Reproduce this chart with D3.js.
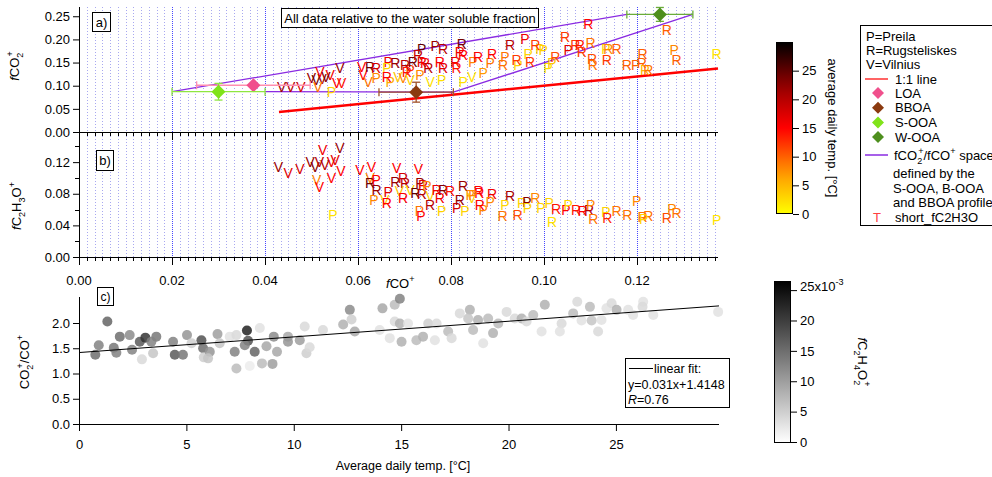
<!DOCTYPE html>
<html>
<head>
<meta charset="utf-8">
<script src="https://cdn.jsdelivr.net/npm/d3@7"></script>
<style>
  body { margin: 0; background: #fff; }
  svg { font-family: "Liberation Sans", Arial, sans-serif; }
</style>
</head>
<body>
<svg id="chart" width="992" height="477"></svg>
<script>
// panel a: site letter, fCO+, fCO2+, average daily temp
const panelA = [
  ["V",0.0436,0.0976,22],["V",0.0455,0.0963,20],["V",0.0477,0.0976,18],["V",0.0500,0.1157,22],
  ["V",0.0510,0.1121,24],["V",0.0523,0.1142,22],["V",0.0518,0.1300,16],["V",0.0540,0.1228,16],
  ["V",0.0561,0.1373,22],["V",0.0554,0.1050,15],["V",0.0565,0.1050,14],["V",0.0514,0.0970,9],
  ["V",0.0531,0.1185,23],["V",0.0608,0.1407,15],["V",0.0611,0.1228,15],["V",0.0622,0.1084,9],
  ["V",0.0686,0.1192,4],["V",0.0697,0.1157,8],["V",0.0712,0.1121,3],["V",0.0755,0.1084,2],
  ["V",0.0845,0.1192,2],
  ["P",0.0543,0.0869,3],["P",0.0639,0.1157,8],["P",0.0665,0.1515,16],["P",0.0662,0.1373,3],
  ["P",0.0669,0.1084,6],["P",0.0733,0.1228,8],["P",0.0737,0.1804,25],["P",0.0766,0.1853,22],
  ["P",0.0780,0.1121,2],["P",0.0826,0.1084,2],["P",0.0847,0.1515,8],["P",0.0959,0.2019,16],
  ["P",0.0991,0.1804,4],["P",0.0998,0.1782,3],["P",0.1052,0.1767,17],["P",0.1133,0.1804,3],
  ["P",0.1280,0.1767,8],["P",0.1197,0.1444,10],["P",0.0966,0.1696,3],["P",0.0916,0.1623,9],
  ["P",0.0944,0.1444,3],["P",0.1009,0.1379,2],["P",0.1017,0.1481,4],["P",0.0869,0.1265,7],
  ["P",0.0884,0.1481,9],["P",0.0712,0.1336,12],
  ["R",0.0626,0.1407,24],["R",0.0639,0.1379,18],["R",0.0680,0.1481,22],["R",0.0701,0.1444,20],
  ["R",0.0662,0.1192,15],["R",0.0718,0.1515,24],["R",0.0729,0.1659,19],["R",0.0737,0.1515,17],
  ["R",0.0744,0.1481,15],["R",0.0751,0.1373,20],["R",0.0783,0.1804,20],["R",0.0776,0.1515,15],
  ["R",0.0783,0.1373,17],["R",0.0823,0.1912,24],["R",0.0819,0.1731,16],["R",0.0826,0.1659,15],
  ["R",0.0809,0.1515,16],["R",0.0812,0.1373,14],["R",0.1095,0.2343,15],["R",0.1264,0.2198,10],
  ["R",0.0927,0.1875,20],["R",0.0981,0.1875,12],["R",0.1045,0.2054,12],["R",0.1067,0.1875,12],
  ["R",0.1077,0.1875,14],["R",0.1100,0.1933,9],["R",0.1081,0.1731,12],["R",0.1138,0.1804,8],
  ["R",0.1156,0.1804,10],["R",0.1103,0.1588,11],["R",0.1105,0.1444,9],["R",0.1135,0.1552,12],
  ["R",0.1285,0.1552,10],["R",0.1212,0.1696,10],["R",0.1210,0.1481,10],["R",0.1178,0.1444,10],
  ["R",0.1217,0.1336,5],["R",0.1224,0.1336,9],["R",0.0888,0.1696,15],["R",0.0858,0.1623,15],
  ["R",0.0912,0.1444,9],["R",0.0941,0.1552,12],["R",0.0970,0.1515,12],["R",0.1024,0.1623,11],
  ["R",0.0705,0.1293,14],["R",0.1371,0.1696,2]
];

// panel b: site letter, fCO+, fC2H3O+, average daily temp
const panelB = [
  ["V",0.0429,0.1133,22],["V",0.0450,0.1061,17],["V",0.0475,0.1115,18],["V",0.0497,0.1199,22],
  ["V",0.0508,0.1133,23],["V",0.0517,0.1208,20],["V",0.0524,0.1355,16],["V",0.0561,0.1376,22],
  ["V",0.0543,0.1208,16],["V",0.0551,0.1229,17],["V",0.0563,0.1090,15],["V",0.0543,0.1006,15],
  ["V",0.0511,0.0976,8],["V",0.0517,0.0880,15],["P",0.0546,0.0527,2],["V",0.0529,0.1165,20],
  ["V",0.0604,0.1102,15],["V",0.0629,0.1145,15],["V",0.0683,0.1124,15],["V",0.0730,0.1115,15],
  ["V",0.0626,0.1006,8],["R",0.0626,0.0934,24],["P",0.0639,0.0976,15],["R",0.0640,0.0850,22],
  ["P",0.0634,0.0723,8],["V",0.0658,0.0723,3],["P",0.0665,0.0821,17],["R",0.0662,0.0682,15],
  ["R",0.0680,0.0947,22],["R",0.0697,0.1006,18],["R",0.0701,0.0934,20],["V",0.0689,0.0830,4],
  ["R",0.0697,0.0745,15],["V",0.0712,0.0850,3],["R",0.0723,0.0808,25],["P",0.0733,0.0934,22],
  ["R",0.0740,0.0913,17],["R",0.0737,0.0795,20],["P",0.0748,0.0893,8],["V",0.0755,0.0766,3],
  ["R",0.0755,0.0660,20],["P",0.0732,0.0577,9],["P",0.0735,0.0514,15],["P",0.0780,0.0577,3],
  ["R",0.0769,0.0850,16],["R",0.0783,0.0850,23],["R",0.0776,0.0745,16],["R",0.0798,0.0830,14],
  ["P",0.0812,0.0619,18],["P",0.0830,0.0577,3],["R",0.0826,0.0893,22],["R",0.0819,0.0723,22],
  ["P",0.0841,0.0787,8],["R",0.0859,0.0830,15],["V",0.0845,0.0745,3],["R",0.0861,0.0812,15],
  ["P",0.0847,0.0783,8],["R",0.0888,0.0795,16],["P",0.0884,0.0698,8],["P",0.0869,0.0593,8],
  ["R",0.0862,0.0657,15],["R",0.0927,0.0770,21],["P",0.0916,0.0657,3],["R",0.0911,0.0518,9],
  ["R",0.0943,0.0530,11],["P",0.0952,0.0686,3],["P",0.0963,0.0698,23],["P",0.0964,0.0615,3],
  ["R",0.0981,0.0745,8],["P",0.0993,0.0615,3],["P",0.1011,0.0686,3],["R",0.1017,0.0446,2],
  ["R",0.1026,0.0602,14],["P",0.1047,0.0593,15],["P",0.1052,0.0657,3],["R",0.1069,0.0593,14],
  ["R",0.1083,0.0585,15],["R",0.1097,0.0593,20],["P",0.1100,0.0657,8],["R",0.1106,0.0476,9],
  ["P",0.1133,0.0572,3],["R",0.1136,0.0489,13],["R",0.1156,0.0585,9],["R",0.1179,0.0530,9],
  ["P",0.1199,0.0711,8],["R",0.1212,0.0501,9],["R",0.1224,0.0518,9],["P",0.1214,0.0476,3],
  ["R",0.1264,0.0489,11],["R",0.1285,0.0552,9],["P",0.1275,0.0602,8],["P",0.1371,0.0467,2]
];

// panel c: average daily temp, CO2+/CO+, fC2H4O2+
const panelC = [
  [0.76,1.37,0.015],[0.92,1.56,0.013],[1.32,2.03,0.016],[1.62,1.51,0.014],[1.74,1.41,0.013],
  [1.90,1.73,0.015],[2.36,1.76,0.012],[2.47,1.47,0.013],[2.83,1.63,0.017],[3.09,1.71,0.021],
  [2.93,1.28,0.004],[3.45,1.40,0.006],[3.60,1.73,0.014],[3.37,1.63,0.013],[4.38,1.63,0.013],
  [4.46,1.37,0.017],[4.84,1.37,0.014],[5.03,1.76,0.011],[5.24,1.60,0.005],[5.70,1.66,0.018],
  [5.78,1.50,0.015],[5.81,1.32,0.005],[6.09,1.43,0.011],[6.01,1.30,0.006],[6.45,1.78,0.010],
  [6.55,1.60,0.006],[7.02,1.73,0.003],[7.25,1.43,0.013],[7.33,1.10,0.007],[7.33,1.76,0.004],
  [7.82,1.85,0.023],[7.87,1.65,0.018],[7.72,1.56,0.013],[8.18,1.43,0.016],[7.95,1.15,0.002],
  [8.42,1.90,0.003],[8.52,1.20,0.007],[8.73,1.54,0.009],[9.01,1.19,0.010],[9.07,1.73,0.012],
  [9.22,1.43,0.009],[9.73,1.73,0.009],[9.73,1.63,0.011],[10.28,1.66,0.010],[10.51,1.93,0.004],
  [10.59,1.40,0.005],[10.74,1.52,0.004],[11.36,1.86,0.004],[12.30,1.97,0.008],[12.61,2.26,0.012],
  [12.69,2.07,0.005],[12.84,1.83,0.009],[14.00,1.86,0.003],[14.13,2.29,0.009],[14.70,2.36,0.007],
  [14.94,2.48,0.013],[14.70,2.03,0.004],[14.94,1.99,0.008],[14.47,1.70,0.003],[15.02,1.63,0.008],
  [15.32,1.99,0.003],[15.71,1.66,0.007],[16.02,1.73,0.008],[16.26,1.99,0.005],[16.57,1.66,0.003],
  [16.65,1.99,0.004],[17.19,1.83,0.007],[17.35,1.70,0.004],[17.73,2.19,0.004],[18.20,2.26,0.008],
  [18.12,2.09,0.006],[18.35,1.86,0.007],[18.58,2.06,0.008],[18.82,1.60,0.003],[19.05,2.09,0.007],
  [19.28,1.80,0.008],[19.52,1.99,0.007],[19.91,2.22,0.004],[20.29,2.09,0.004],[20.61,2.09,0.008],
  [20.84,2.03,0.004],[21.15,2.16,0.007],[21.54,1.83,0.003],[21.69,2.36,0.008],[22.47,1.99,0.004],
  [22.39,1.83,0.003],[23.01,2.19,0.007],[23.20,2.42,0.004],[23.40,2.05,0.003],[23.79,2.32,0.007],
  [23.87,2.05,0.006],[24.17,1.83,0.004],[24.33,2.06,0.003],[24.56,2.29,0.003],[24.80,2.39,0.004],
  [25.03,2.26,0.008],[25.57,2.26,0.003],[25.80,2.16,0.003],[26.27,2.42,0.003],[26.24,2.32,0.004],
  [26.74,2.16,0.003],[29.76,2.22,0.003]
];

// factor profiles (LOA, BBOA, S-OOA, W-OOA) with error bars
const profileNames = ["LOA", "BBOA", "S-OOA", "W-OOA"];
const profileCO    = [0.0375, 0.0725, 0.0300, 0.1249];
const profileCO2   = [0.101, 0.086, 0.087, 0.254];
const profileErrCO = [0.0122, 0.0080, 0.0100, 0.0071];
const profileErrCO2 = [0, 0.0215, 0.018, 0.015];

const oneToOne = [0.043, 0.1374];
const fit = { slope: 0.031, intercept: 1.4148 };

const tempTicks = [0, 5, 10, 15, 20, 25];
const acetTicks = [0, 0.005, 0.010, 0.015, 0.020, 0.025];

const svg = d3.select("#chart");

const xA = d3.scaleLinear([0, 0.1374], [79, 718]);
const yA = d3.scaleLinear([0, 0.27], [132, 7]);
const yB = d3.scaleLinear([0, 0.148], [257, 140]);
const xC = d3.scaleLinear([0, 29.8], [79, 719]);
const yC = d3.scaleLinear([0, 2.5], [424, 297.75]);

const tempColor = d3.scaleLinear()
  .domain([0, 7, 15, 22, 30])
  .range(["#ffff00", "#ff9900", "#ff0000", "#9a0000", "#000000"]);
const grey = d3.scaleLinear([0, 0.0265], ["#ffffff", "#000000"]);
const profColors = ["#f0508c", "#8b3a0f", "#80e31a", "#4e8f1e"];
const profErrColors = ["#ff8fb0", "#a0522d", "#8fe640", "#6aac3a"];

// rich text helper: parts = [text, kind, dx]
function rich(sel, parts, size) {
  let shift = 0;
  parts.forEach(([t, kind, dx]) => {
    const want = kind === "sub" ? size * 0.3 : kind === "sup" ? -size * 0.45 : 0;
    const ts = sel.append("tspan").text(t).attr("dy", want - shift);
    if (dx) ts.attr("dx", dx);
    if (kind === "sub" || kind === "sup") ts.attr("font-size", size * 0.7);
    if (kind === "i") ts.attr("font-style", "italic");
    shift = want;
  });
  return sel;
}

// ---- vertical grid for panels a and b
const step = 0.02 / 12;
const minorVals = d3.range(0, 0.1374 + 1e-9, step);
const isMajor = v => Math.abs(v / 0.02 - Math.round(v / 0.02)) < 1e-6;

svg.append("g").selectAll("line").data(minorVals.filter(v => v > 0)).join("line")
  .attr("x1", d => Math.round(xA(d)) + 0.5).attr("x2", d => Math.round(xA(d)) + 0.5)
  .attr("y1", 7).attr("y2", 257)
  .attr("stroke", d => isMajor(d) ? "#4848ff" : "#a8a8f0")
  .attr("stroke-dasharray", d => isMajor(d) ? "1,1" : "1,2");

// ---- panel a axes
svg.append("g").attr("transform", "translate(79,0)")
  .call(d3.axisLeft(yA).tickValues([0, 0.05, 0.1, 0.15, 0.2, 0.25]).tickFormat(d3.format(".2f")).tickSize(6).tickPadding(3))
  .call(g => g.select(".domain").attr("d", "M0.5,7V132.5"));

function bottomTicks(y, labels) {
  const g = svg.append("g").attr("transform", `translate(0,${y})`);
  g.append("line").attr("x1", 79).attr("x2", 718).attr("y1", 0.5).attr("y2", 0.5).attr("stroke", "#000");
  g.selectAll("line.t").data(minorVals).join("line").attr("class", "t")
    .attr("x1", d => Math.round(xA(d)) + 0.5).attr("x2", d => Math.round(xA(d)) + 0.5)
    .attr("y1", 0).attr("y2", d => isMajor(d) ? 8 : 4).attr("stroke", "#000");
  if (labels) {
    g.selectAll("text").data(minorVals.filter(isMajor)).join("text")
      .attr("x", d => xA(d)).attr("y", 28).attr("text-anchor", "middle")
      .attr("font-size", 13).text(d3.format(".2f"));
  }
}
bottomTicks(132, false);
bottomTicks(257, true);

// ---- panel b axis
svg.append("g").attr("transform", "translate(79,0)")
  .call(d3.axisLeft(yB).tickValues([0, 0.04, 0.08, 0.12]).tickFormat(d3.format(".2f")).tickSize(6).tickPadding(3))
  .call(g => g.select(".domain").attr("d", "M0.5,140V257.5"));
svg.append("g").selectAll("line").data([0.02, 0.06, 0.10, 0.14]).join("line")
  .attr("x1", 75).attr("x2", 79).attr("y1", d => Math.round(yB(d)) + 0.5).attr("y2", d => Math.round(yB(d)) + 0.5)
  .attr("stroke", "#000");

svg.selectAll(".tick text").attr("font-size", 13).attr("font-family", "Liberation Sans, Arial, sans-serif");

// ---- panel a content: polygon space, 1:1 line, letters, profiles
const S = 2, W = 3, B = 1;
const spacePts = [
  [[profileCO[S] - profileErrCO[S], profileCO2[S]], [profileCO[W] - profileErrCO[W], profileCO2[W]]],
  [[profileCO[W] + profileErrCO[W], profileCO2[W]], [profileCO[B] + profileErrCO[B], profileCO2[B]],
   [profileCO[S] + profileErrCO[S], profileCO2[S]]]
];
const lineA = d3.line().x(d => xA(d[0])).y(d => yA(d[1]));
svg.append("g").selectAll("path").data(spacePts).join("path")
  .attr("d", lineA).attr("fill", "none").attr("stroke", "#8a2be2").attr("stroke-width", 1.3);

svg.append("path").attr("d", lineA(oneToOne.map(v => [v, v])))
  .attr("stroke", "#ff0000").attr("stroke-width", 2.5).attr("fill", "none");

function letters(data, yScale) {
  svg.append("g").selectAll("text").data(data).join("text")
    .attr("x", d => xA(d[1])).attr("y", d => yScale(d[2]))
    .attr("dy", "0.36em").attr("text-anchor", "middle")
    .attr("font-size", 14).attr("fill", d => tempColor(d[3])).text(d => d[0]);
}
letters(panelA, yA);
letters(panelB, yB);

// profile error bars + diamonds
const prof = svg.append("g");
profileNames.forEach((n, i) => {
  const cx = xA(profileCO[i]), cy = yA(profileCO2[i]);
  const x0 = xA(profileCO[i] - profileErrCO[i]), x1 = xA(profileCO[i] + profileErrCO[i]);
  const c = profErrColors[i];
  prof.append("line").attr("x1", x0).attr("x2", x1).attr("y1", cy).attr("y2", cy).attr("stroke", c).attr("stroke-width", 1.3);
  [x0, x1].forEach(x => prof.append("line").attr("x1", x).attr("x2", x).attr("y1", cy - 4).attr("y2", cy + 4).attr("stroke", c).attr("stroke-width", 1.3));
  if (profileErrCO2[i] > 0) {
    const y0 = yA(profileCO2[i] - profileErrCO2[i]), y1 = yA(profileCO2[i] + profileErrCO2[i]);
    prof.append("line").attr("x1", cx).attr("x2", cx).attr("y1", y0).attr("y2", y1).attr("stroke", c).attr("stroke-width", 1.3);
    [y0, y1].forEach(y => prof.append("line").attr("x1", cx - 4).attr("x2", cx + 4).attr("y1", y).attr("y2", y).attr("stroke", c).attr("stroke-width", 1.3));
  }
  prof.append("path").attr("d", `M${cx},${cy - 7}L${cx + 7},${cy}L${cx},${cy + 7}L${cx - 7},${cy}Z`)
    .attr("fill", profColors[i]);
});

// text boxes
function boxText(x, y, w, h, str, size) {
  svg.append("rect").attr("x", x + 0.5).attr("y", y + 0.5).attr("width", w).attr("height", h)
    .attr("fill", "#fff").attr("stroke", "#000");
  svg.append("text").attr("x", x + w / 2 + 0.5).attr("y", y + h / 2 + 0.5).attr("dy", "0.36em")
    .attr("text-anchor", "middle").attr("font-size", size).text(str);
}
boxText(92, 12, 18, 19, "a)", 13);
boxText(281, 8, 257, 19, "All data relative to the water soluble fraction", 13);
boxText(96, 150, 17, 20, "b)", 13);
boxText(97, 287, 16, 18, "c)", 12);

// axis labels
rich(svg.append("text").attr("transform", "translate(19,66) rotate(-90)").attr("text-anchor", "middle").attr("font-size", 13),
  [["f", "i"], ["CO"], ["2", "sub"], ["+", "sup", -4]], 13);
rich(svg.append("text").attr("transform", "translate(21,206) rotate(-90)").attr("text-anchor", "middle").attr("font-size", 13),
  [["f", "i"], ["C"], ["2", "sub"], ["H"], ["3", "sub"], ["O"], ["+", "sup"]], 13);
rich(svg.append("text").attr("x", 386).attr("y", 288).attr("font-size", 13),
  [["f", "i"], ["CO"], ["+", "sup"]], 13);

// ---- panel c
svg.append("g").attr("transform", "translate(0,424)")
  .call(d3.axisBottom(xC).tickValues([0, 5, 10, 15, 20, 25]).tickSize(7).tickPadding(9))
  .call(g => g.select(".domain").attr("d", "M79,0.5H719"))
  .selectAll("text").attr("font-size", 13);
svg.append("g").attr("transform", "translate(79,0)")
  .call(d3.axisLeft(yC).tickValues([0, 0.5, 1, 1.5, 2]).tickFormat(d3.format(".1f")).tickSize(6).tickPadding(3))
  .call(g => g.select(".domain").attr("d", "M0.5,297V424.5"))
  .selectAll("text").attr("font-size", 13);

svg.append("g").selectAll("circle").data(panelC).join("circle")
  .attr("cx", d => xC(d[0])).attr("cy", d => yC(d[1])).attr("r", 5)
  .attr("fill", d => grey(d[2])).attr("opacity", 0.85);

svg.append("line")
  .attr("x1", xC(0)).attr("y1", yC(fit.intercept))
  .attr("x2", xC(29.8)).attr("y2", yC(fit.intercept + fit.slope * 29.8))
  .attr("stroke", "#000").attr("stroke-width", 1);

svg.append("text").attr("x", 403).attr("y", 470).attr("text-anchor", "middle").attr("font-size", 12.5)
  .text("Average daily temp. [°C]");
rich(svg.append("text").attr("transform", "translate(29,362) rotate(-90)").attr("text-anchor", "middle").attr("font-size", 13),
  [["CO"], ["2", "sub"], ["+", "sup", -4], ["/CO"], ["+", "sup"]], 13);

// fit legend
svg.append("rect").attr("x", 625.5).attr("y", 358.5).attr("width", 104).attr("height", 49).attr("fill", "#fff").attr("stroke", "#000");
svg.append("line").attr("x1", 629).attr("x2", 653).attr("y1", 368.5).attr("y2", 368.5).attr("stroke", "#000");
svg.append("text").attr("x", 654).attr("y", 373).attr("font-size", 12.5).text("linear fit:");
svg.append("text").attr("x", 628).attr("y", 389).attr("font-size", 12.5).text(`y=${fit.slope}x+${fit.intercept}`);
rich(svg.append("text").attr("x", 628).attr("y", 404).attr("font-size", 12.5), [["R", "i"], ["=0.76"]], 12.5);

// ---- colour bars
const defs = svg.append("defs");
function gradient(id, scale, max) {
  const g = defs.append("linearGradient").attr("id", id).attr("x1", 0).attr("x2", 0).attr("y1", 1).attr("y2", 0);
  d3.range(0, 11).forEach(i => g.append("stop").attr("offset", i / 10).attr("stop-color", scale(max * i / 10)));
}
gradient("gTemp", tempColor, 30);
gradient("gGrey", grey, 0.0265);

const cb1 = d3.scaleLinear([0, 30], [214, 42]);
svg.append("rect").attr("x", 776.5).attr("y", 42.5).attr("width", 16).attr("height", 171).attr("fill", "url(#gTemp)").attr("stroke", "#000");
svg.append("g").attr("transform", "translate(793,0)")
  .call(d3.axisRight(cb1).tickValues(tempTicks).tickSize(6).tickPadding(3))
  .call(g => g.select(".domain").remove())
  .selectAll("text").attr("font-size", 13);
svg.append("text").attr("transform", "translate(828,128) rotate(90)").attr("text-anchor", "middle").attr("font-size", 13)
  .text("average daily temp. [°C]");

const cb2 = d3.scaleLinear([0, 0.0265], [442, 281]);
svg.append("rect").attr("x", 774.5).attr("y", 281.5).attr("width", 16).attr("height", 161).attr("fill", "url(#gGrey)").attr("stroke", "#000");
const cb2ax = svg.append("g").attr("transform", "translate(791,0)")
  .call(d3.axisRight(cb2).tickValues(acetTicks).tickSize(6).tickPadding(3).tickFormat(d => d3.format("d")(Math.round(d * 1000))))
  .call(g => g.select(".domain").remove());
cb2ax.selectAll("text").attr("font-size", 13);
cb2ax.selectAll(".tick").filter(d => d === 0.025).select("text").each(function () {
  d3.select(this).text(null);
  rich(d3.select(this), [["25x10"], ["-3", "sup"]], 13);
});
rich(svg.append("text").attr("transform", "translate(858,362) rotate(90)").attr("text-anchor", "middle").attr("font-size", 13),
  [["f", "i"], ["C"], ["2", "sub"], ["H"], ["4", "sub"], ["O"], ["2", "sub"], ["+", "sup", -4]], 13);

// ---- legend
svg.append("rect").attr("x", 860.5).attr("y", 25.5).attr("width", 140).attr("height", 200).attr("fill", "#fff").attr("stroke", "#000");
const lg = svg.append("g").attr("font-size", 13);
[["P=Preila", 36], ["R=Rugsteliskes", 50], ["V=Vilnius", 64]].forEach(([t, y]) =>
  lg.append("text").attr("x", 866).attr("y", y).attr("dy", "0.36em").text(t));
lg.append("line").attr("x1", 865).attr("x2", 888).attr("y1", 79).attr("y2", 79).attr("stroke", "#ff3030").attr("stroke-width", 1.5);
lg.append("text").attr("x", 895).attr("y", 79).attr("dy", "0.36em").text("1:1 line");
profileNames.forEach((n, i) => {
  const y = 93 + i * 14.7, cx = 878;
  lg.append("path").attr("d", `M${cx},${y - 6}L${cx + 6},${y}L${cx},${y + 6}L${cx - 6},${y}Z`).attr("fill", profColors[i]);
  lg.append("text").attr("x", 895).attr("y", y).attr("dy", "0.36em").text(n);
});
lg.append("line").attr("x1", 865).attr("x2", 888).attr("y1", 155).attr("y2", 155).attr("stroke", "#8a2be2").attr("stroke-width", 1.5);
rich(lg.append("text").attr("x", 894).attr("y", 160), [["fCO"], ["2", "sub"], ["+", "sup", -4], ["/fCO"], ["+", "sup"], [" space"]], 13);
[["defined by the", 173], ["S-OOA, B-OOA", 188], ["and BBOA profiles", 202]].forEach(([t, y]) =>
  lg.append("text").attr("x", 893).attr("y", y).attr("dy", "0.36em").text(t));
lg.append("text").attr("x", 877).attr("y", 217).attr("dy", "0.36em").attr("text-anchor", "middle").attr("fill", "#ff4040").text("T");
lg.append("text").attr("x", 895).attr("y", 217).attr("dy", "0.36em").text("short_fC2H3O");
</script>
</body>
</html>
